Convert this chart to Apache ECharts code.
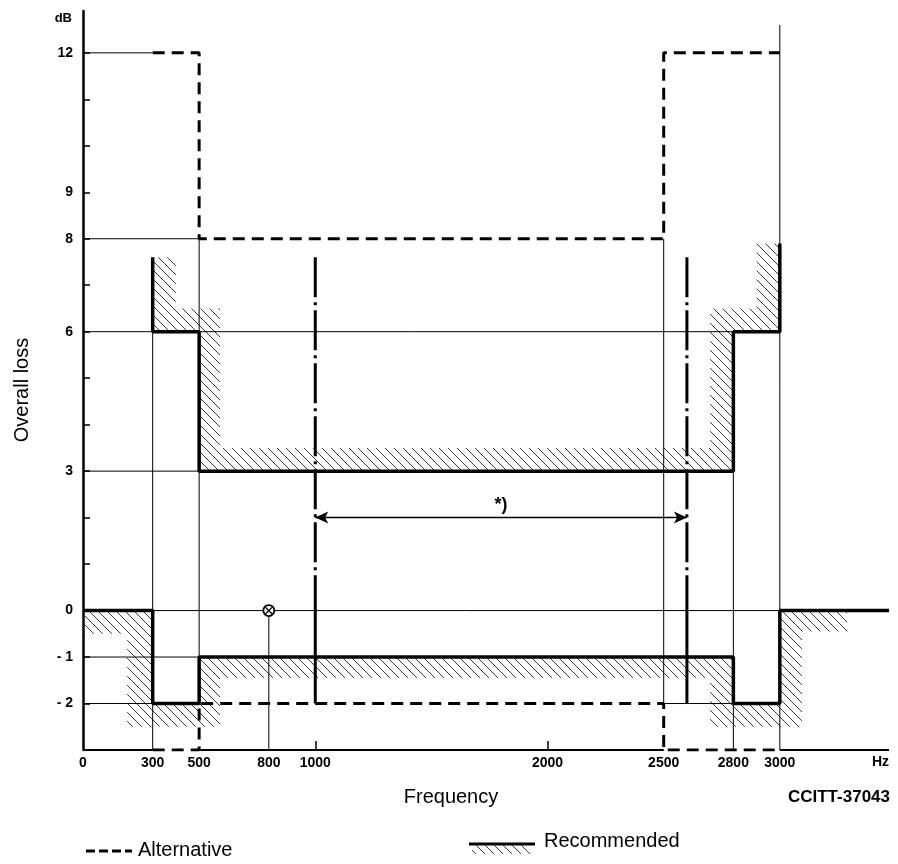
<!DOCTYPE html>
<html>
<head>
<meta charset="utf-8">
<script src="https://cdn.jsdelivr.net/npm/echarts@6/dist/echarts.min.js"></script>
<style>
  html, body { margin: 0; padding: 0; background: #fff; }
  #chart { width: 898px; height: 864px; }
</style>
</head>
<body>
<div id="chart"></div>
<script>
// axis labels
const freqLabels = [0, 300, 500, 800, 1000, 2000, 2500, 2800, 3000]
const freqTickMarks = [1000, 2000]
const lossLabels = [12, 9, 8, 6, 3, 0, -1, -2]
const lossTickMarks = [-2, -1, 0, 1, 2, 3, 4, 5, 6, 7, 8, 9, 10, 11, 12]

// recommended limits (thick line, hatched on the outside)
const recommendedUpper = [[300, 7.6], [300, 6], [500, 6], [500, 3], [2800, 3], [2800, 6], [3000, 6], [3000, 7.9]]
const recommendedLower = [[0, 0], [300, 0], [300, -2], [500, -2], [500, -1], [2800, -1], [2800, -2], [3000, -2], [3000, 0], [3470, 0]]

// hatched zones
const hatchUpper = [[300, 7.6], [300, 6], [500, 6], [500, 3], [2800, 3], [2800, 6], [3000, 6], [3000, 7.9],
  [2900, 7.9], [2900, 6.5], [2700, 6.5], [2700, 3.5], [590, 3.5], [590, 6.5], [400, 6.5], [400, 7.6]]
const hatchLower = [[0, 0], [300, 0], [300, -2], [500, -2], [500, -1], [2800, -1], [2800, -2], [3000, -2], [3000, 0],
  [3290, 0], [3290, -0.45], [3095, -0.45], [3095, -2.5], [2700, -2.5], [2700, -1.45], [590, -1.45], [590, -2.5],
  [190, -2.5], [190, -0.5], [0, -0.5]]

// alternative limits (dashed)
const alternativeUpper = [[300, 12], [500, 12], [500, 8], [2500, 8], [2500, 12], [3000, 12]]
const alternativeLower = [[300, -3], [500, -3], [500, -2], [2500, -2], [2500, -3], [3000, -3]]

// thin reference lines
const guideLines = [
  [[0, 12], [300, 12]],
  [[0, 8], [500, 8]],
  [[0, 6], [2800, 6]],
  [[0, 3], [500, 3]],
  [[300, 0], [3000, 0]],
  [[0, -1], [500, -1]],
  [[0, -2], [300, -2]],
  [[2500, -2], [2800, -2]],
  [[300, -3], [300, 6]],
  [[500, -2], [500, 8]],
  [[800, -3], [800, 0]],
  [[2500, -2], [2500, 8]],
  [[2800, -3], [2800, 3]],
  [[3000, -3], [3000, 12.6]]
]
// bottom axis line (broken where the dashed limit runs along it)
const baseLines = [
  [[0, -3], [300, -3]],
  [[500, -3], [2500, -3]],
  [[3000, -3], [3470, -3]]
]

// measuring band (dash-dot)
const bandEdges = [1000, 2600]
const bandTop = 7.6
const bandBottom = -2
const arrowLevel = 2
const markerPoint = [800, 0]

const fontFamily = '"Liberation Sans", Arial, sans-serif'

// 斜线填充图案
const makeHatch = () => {
  const c = document.createElement('canvas')
  c.width = 9
  c.height = 9
  const ctx = c.getContext('2d')
  ctx.strokeStyle = '#222'
  ctx.lineWidth = 0.9
  ctx.beginPath()
  ctx.moveTo(-1, -1); ctx.lineTo(10, 10)
  ctx.moveTo(-1, 8); ctx.lineTo(1, 10)
  ctx.moveTo(8, -1); ctx.lineTo(10, 1)
  ctx.stroke()
  return c
}
const hatch = makeHatch()

const lineSeries = (points, width, type, z) => ({
  type: 'line',
  data: points,
  symbol: 'none',
  silent: true,
  z: z,
  lineStyle: { color: '#000', width: width, type: type, cap: 'butt' }
})

const hatchSeries = (poly) => ({
  type: 'custom',
  silent: true,
  z: 1,
  data: [poly[0]],
  renderItem: (params, api) => ({
    type: 'polygon',
    shape: { points: poly.map(p => api.coord(p)) },
    style: { fill: { image: hatch, repeat: 'repeat' }, stroke: 'none' }
  })
})

const series = []
series.push(hatchSeries(hatchUpper))
series.push(hatchSeries(hatchLower))
guideLines.forEach(g => series.push(lineSeries(g, 1, 'solid', 2)))
baseLines.forEach(g => series.push(lineSeries(g, 2, 'solid', 2)))
series.push(lineSeries(alternativeUpper, 3, [12, 7], 3))
series.push(lineSeries(alternativeLower, 3, [12, 7], 3))
series.push(lineSeries(recommendedUpper, 3.5, 'solid', 4))
series.push(lineSeries(recommendedLower, 3.5, 'solid', 4))
bandEdges.forEach(f => {
  series.push(lineSeries([[f, bandTop], [f, 0]], 3, [40, 5, 3, 5], 4))
  series.push(lineSeries([[f, 0], [f, bandBottom]], 3, 'solid', 4))
})

// 双箭头 + *)
const arrowSeries = lineSeries([], 1, 'solid', 5)
arrowSeries.markLine = {
  silent: true,
  symbol: ['arrow', 'arrow'],
  symbolSize: [9, 13],
  lineStyle: { color: '#000', width: 1.3, type: 'solid' },
  label: { show: true, position: 'middle', formatter: '*)', color: '#000', fontSize: 18, fontWeight: 'bold', fontFamily: fontFamily, distance: 4 },
  data: [[{ coord: [bandEdges[0], arrowLevel] }, { coord: [bandEdges[1], arrowLevel] }]]
}
series.push(arrowSeries)

// ⊗ 标记
series.push({
  type: 'custom',
  silent: true,
  z: 6,
  data: [markerPoint],
  renderItem: (params, api) => {
    const p = api.coord([api.value(0), api.value(1)])
    const d = 3.2
    return {
      type: 'group',
      children: [
        { type: 'circle', shape: { cx: p[0], cy: p[1], r: 5.5 }, style: { fill: '#fff', stroke: '#000', lineWidth: 1.8 } },
        { type: 'line', shape: { x1: p[0] - d, y1: p[1] - d, x2: p[0] + d, y2: p[1] + d }, style: { stroke: '#000', lineWidth: 1.3 } },
        { type: 'line', shape: { x1: p[0] - d, y1: p[1] + d, x2: p[0] + d, y2: p[1] - d }, style: { stroke: '#000', lineWidth: 1.3 } }
      ]
    }
  }
})

const chart = echarts.init(document.getElementById('chart'))
chart.setOption({
  animation: false,
  backgroundColor: '#fff',
  textStyle: { fontFamily: fontFamily },
  grid: { left: 83, right: 9, top: 11, bottom: 114 },
  xAxis: {
    type: 'value',
    min: 0,
    max: 3470,
    axisLine: { show: false, onZero: false },
    splitLine: { show: false },
    axisTick: { show: true, inside: true, length: 9, customValues: freqTickMarks, lineStyle: { color: '#000', width: 1.5 } },
    axisLabel: {
      customValues: freqLabels,
      color: '#000',
      fontSize: 14,
      fontWeight: 'bold',
      margin: 6,
      fontFamily: fontFamily,
      formatter: v => String(v)
    }
  },
  yAxis: {
    type: 'value',
    min: -3,
    max: 12.9,
    splitLine: { show: false },
    axisLine: { show: true, lineStyle: { color: '#000', width: 2.5 } },
    axisTick: { show: true, inside: true, length: 7, customValues: lossTickMarks, lineStyle: { color: '#000', width: 1.5 } },
    axisLabel: {
      customValues: lossLabels,
      color: '#000',
      fontSize: 14,
      fontWeight: 'bold',
      margin: 10,
      fontFamily: fontFamily,
      formatter: v => (v < 0 ? '- ' + (-v) : String(v))
    }
  },
  graphic: [
    { type: 'text', x: 72, y: 18, style: { text: 'dB', fontSize: 13, fontWeight: 'bold', fontFamily: fontFamily, fill: '#000', align: 'right', verticalAlign: 'middle' } },
    { type: 'text', x: 22, y: 390, rotation: Math.PI / 2, style: { text: 'Overall loss', fontSize: 20, fontFamily: fontFamily, fill: '#000', align: 'center', verticalAlign: 'middle' } },
    { type: 'text', x: 889, y: 762, style: { text: 'Hz', fontSize: 14, fontWeight: 'bold', fontFamily: fontFamily, fill: '#000', align: 'right', verticalAlign: 'middle' } },
    { type: 'text', x: 451, y: 797, style: { text: 'Frequency', fontSize: 20, fontFamily: fontFamily, fill: '#000', align: 'center', verticalAlign: 'middle' } },
    { type: 'text', x: 890, y: 797, style: { text: 'CCITT-37043', fontSize: 17, fontWeight: 'bold', fontFamily: fontFamily, fill: '#000', align: 'right', verticalAlign: 'middle' } },
    // 图例
    { type: 'line', shape: { x1: 86, y1: 851, x2: 132, y2: 851 }, style: { stroke: '#000', lineWidth: 3, lineDash: [9, 4] } },
    { type: 'text', x: 138, y: 850, style: { text: 'Alternative', fontSize: 20, fontFamily: fontFamily, fill: '#000', align: 'left', verticalAlign: 'middle' } },
    { type: 'rect', shape: { x: 472, y: 845, width: 58, height: 9 }, style: { fill: { image: hatch, repeat: 'repeat' } } },
    { type: 'line', shape: { x1: 469, y1: 844, x2: 535, y2: 844 }, style: { stroke: '#000', lineWidth: 3 } },
    { type: 'text', x: 544, y: 841, style: { text: 'Recommended', fontSize: 20, fontFamily: fontFamily, fill: '#000', align: 'left', verticalAlign: 'middle' } }
  ],
  series: series
})
</script>
</body>
</html>
